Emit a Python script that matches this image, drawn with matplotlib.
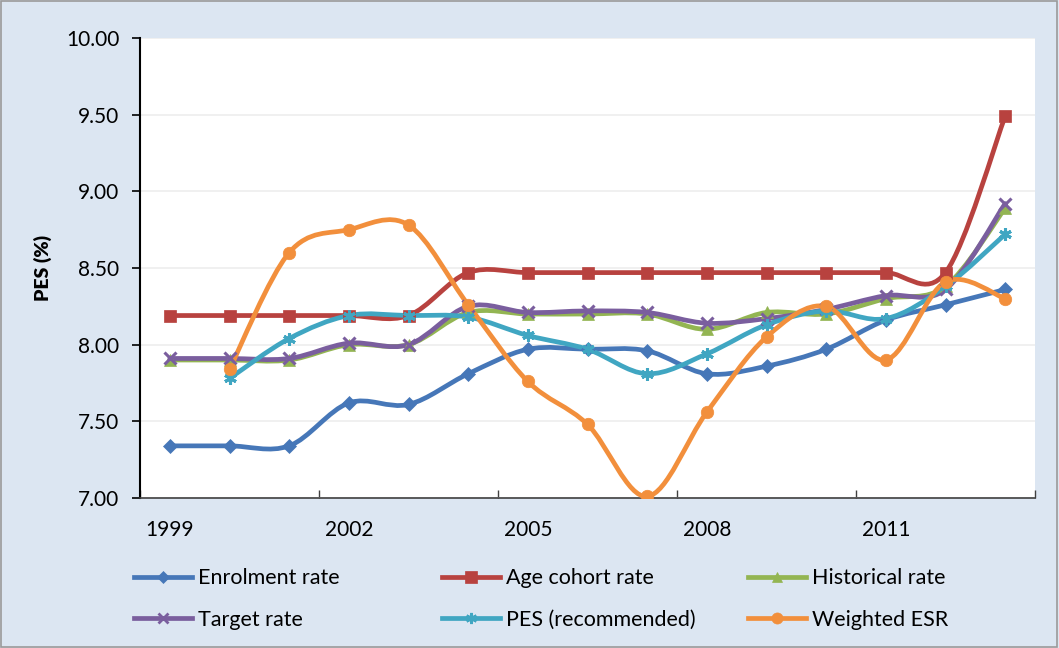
import numpy as np
import matplotlib
matplotlib.use("Agg")
import matplotlib.pyplot as plt
from matplotlib.path import Path
from matplotlib.patches import PathPatch
from matplotlib.lines import Line2D

# ── Data ─────────────────────────────────────────────────────────────────────
years = list(range(1999, 2014))
enrolment  = [7.34, 7.34, 7.34, 7.62, 7.61, 7.81, 7.97, 7.97, 7.96, 7.81, 7.86, 7.97, 8.16, 8.26, 8.36]
age_cohort = [8.19, 8.19, 8.19, 8.19, 8.19, 8.47, 8.47, 8.47, 8.47, 8.47, 8.47, 8.47, 8.47, 8.47, 9.49]
historical = [7.90, 7.90, 7.90, 8.00, 8.00, 8.21, 8.20, 8.20, 8.20, 8.10, 8.21, 8.20, 8.30, 8.38, 8.89]
target     = [7.91, 7.91, 7.91, 8.01, 8.00, 8.25, 8.21, 8.22, 8.21, 8.14, 8.17, 8.23, 8.32, 8.36, 8.92]
pes_rec    = [np.nan, 7.78, 8.04, 8.19, 8.19, 8.18, 8.06, 7.97, 7.81, 7.94, 8.13, 8.22, 8.17, 8.38, 8.72]
weighted   = [np.nan, 7.84, 8.60, 8.75, 8.78, 8.26, 7.76, 7.48, 7.01, 7.56, 8.05, 8.25, 7.90, 8.41, 8.30]

series_names = ["Enrolment rate", "Age cohort rate", "Historical rate",
                "Target rate", "PES (recommended)", "Weighted ESR"]
series_vals = [enrolment, age_cohort, historical, target, pes_rec, weighted]
colors  = ["#4677B8", "#B8423F", "#93B552", "#7A5E9E", "#40A6C2", "#F28F3C"]
markers = ["D", "s", "^", "x", (6, 2, 0), "o"]
msizes  = [7, 9, 8, 8, 9, 9]

BG = "#DCE6F2"
FS = 15

plt.rcParams["font.family"] = ["Lato", "DejaVu Sans"]

fig = plt.figure(figsize=(10.59, 6.48), dpi=100, facecolor=BG)
ax = fig.add_axes([140 / 1059, 1 - 498 / 648, 895 / 1059, 460 / 648])
ax.set_facecolor("white")


def smooth_path(xs, ys):
    # Catmull-Rom style bezier segments through the data points
    pts = [(x, y) for x, y in zip(xs, ys) if not np.isnan(y)]
    p = np.array(pts, dtype=float)
    n = len(p)
    verts = [p[0]]
    codes = [Path.MOVETO]
    for i in range(n - 1):
        p0 = p[i - 1] if i > 0 else p[i]
        p1, p2 = p[i], p[i + 1]
        p3 = p[i + 2] if i + 2 < n else p[i + 1]
        c1 = p1 + (p2 - p0) / 6.0
        c2 = p2 - (p3 - p1) / 6.0
        verts += [c1, c2, p2]
        codes += [Path.CURVE4] * 3
    return Path(verts, codes)


def thin_marker(m):
    return m == "x" or isinstance(m, tuple)


xpos = np.arange(len(years))
for name, vals, col, mk, ms in zip(series_names, series_vals, colors, markers, msizes):
    v = np.array(vals, dtype=float)
    patch = PathPatch(smooth_path(xpos, v), facecolor="none", edgecolor=col,
                      lw=3.4, capstyle="round", joinstyle="round", zorder=3)
    ax.add_patch(patch)
    ax.plot(xpos, v, ls="none", marker=mk, color=col, ms=ms,
            mec=col, mew=(2.2 if thin_marker(mk) else 0.5), zorder=4)

ax.set_xlim(-0.5, len(years) - 0.5)
ax.set_ylim(7.0, 10.0)

yt = np.arange(7.0, 10.01, 0.5)
ax.set_yticks(yt)
ax.set_yticklabels([f"{t:.2f}" for t in yt], fontsize=FS)
ax.yaxis.grid(True, color="#EDEDED", lw=1.2)
ax.set_axisbelow(True)

ax.set_xticks(xpos[::3])
ax.set_xticklabels([str(y) for y in years[::3]], fontsize=FS)
ax.set_xticks(np.arange(-0.5, len(years), 3), minor=True)
ax.tick_params(axis="x", which="major", length=0, pad=16)
ax.tick_params(axis="x", which="minor", direction="in", length=6, color="#404040", width=1)
ax.tick_params(axis="y", direction="out", length=6, width=1.2, pad=9)

for s in ("top", "right"):
    ax.spines[s].set_visible(False)
ax.spines["left"].set_color("black")
ax.spines["left"].set_linewidth(1.5)
ax.spines["bottom"].set_color("#404040")
ax.spines["bottom"].set_linewidth(1.2)

ax.set_ylabel("PES (%)", fontsize=14, fontweight="heavy", labelpad=10)

# legend: three columns placed at fixed x positions
handles = [Line2D([0], [0], color=c, lw=3.4, marker=m, ms=s - 1, mec=c,
                  mew=(2.0 if thin_marker(m) else 0.5))
           for c, m, s in zip(colors, markers, msizes)]
col_x = [134, 442, 748]
for j in range(3):
    idx = [j, j + 3]
    leg = fig.legend([handles[i] for i in idx], [series_names[i] for i in idx],
                     loc="center left", bbox_to_anchor=(col_x[j] / 1059, 1 - 599 / 648),
                     frameon=False, fontsize=15.5, handlelength=2.7, handletextpad=0.25,
                     labelspacing=1.0, borderpad=0, borderaxespad=0)

fig.patches.append(plt.Rectangle((0.001, 0.001), 0.997, 0.997, transform=fig.transFigure,
                                 fill=False, edgecolor="#9A9A9A", lw=1.2))

fig.savefig("out.png", dpi=100, facecolor=BG)
